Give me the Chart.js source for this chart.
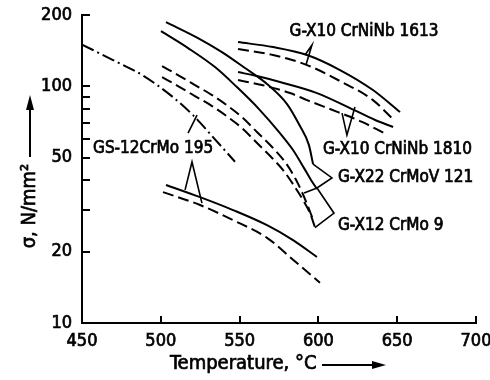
<!DOCTYPE html>
<html><head><meta charset="utf-8">
<script src="https://cdn.jsdelivr.net/npm/chart.js@4.4.1/dist/chart.umd.min.js"></script>
<style>html,body{margin:0;padding:0;background:#fff;}</style>
</head><body>
<canvas id="c" width="490" height="380"></canvas>
<script>
// ---- axis ticks ----
const xTickValues = [450, 500, 550, 600, 650, 700];
const yTickValues = [10, 20, 30, 40, 50, 60, 70, 80, 90, 100, 200];
const yLabelValues = [10, 20, 50, 100, 200];

// ---- series (temperature °C, stress N/mm²) ----
const gsTemp   = [450, 469.7, 488.7, 507.7, 520.4, 533.1, 547.1];
const gsStress = [150, 129, 111, 90, 75.5, 61, 48];

const x22SolidTemp   = [503.3, 523.6, 538.8, 553.4, 567.4, 580.1, 588.3, 594.0, 596.6];
const x22SolidStress = [186.7, 159.8, 139.4, 119.4, 102.2, 84.1, 67.9, 56.4, 46.9];
const x22DashTemp    = [500.8, 510.9, 521.7, 532.5, 542.6, 551.5, 561.0, 570.6, 578.8, 585.2, 589.6, 592.8, 596.0];
const x22DashStress  = [121.7, 111.5, 101.2, 91.8, 82.5, 74.1, 64.1, 55.4, 47.9, 41.0, 35.7, 31.8, 28.0];

const x12SolidTemp   = [500.1, 517.3, 534.4, 548.3, 562.3, 575.6, 583.9, 590.9, 595.3, 599.1];
const x12SolidStress = [171.0, 145.0, 120.5, 99.2, 80.1, 63.4, 53.8, 45.1, 40.2, 36.8];
const x12DashTemp    = [500.8, 510.9, 521.7, 532.5, 542.6, 551.5, 561.7, 570.6, 577.5, 583.9, 590.2, 594.7, 597.8];
const x12DashStress  = [109.4, 100.2, 90.9, 82.5, 74.1, 66.6, 57.0, 49.8, 44.3, 38.6, 33.1, 29.1, 25.4];

const lowSolidTemp   = [503.3, 524.9, 545.8, 567.4, 583.9, 599.1];
const lowSolidStress = [38.3, 34.0, 30.0, 25.9, 22.4, 19.0];
const lowDashTemp    = [501.4, 524.9, 545.8, 567.4, 583.9, 601.0];
const lowDashStress  = [35.7, 31.5, 27.2, 22.9, 18.5, 14.8];

const n1613SolidTemp   = [549, 571.2, 592.8, 613.7, 634.6, 651.8];
const n1613SolidStress = [153.7, 146.4, 135.5, 117.1, 96.4, 77.8];
const n1613DashTemp    = [549, 571.2, 592.8, 613.7, 634.6, 647.3];
const n1613DashStress  = [143.6, 135.5, 122.9, 105.2, 87.4, 72.7];

const n1810SolidTemp   = [549, 561.0, 575.6, 599.1, 620.1, 636.0, 647.4];
const n1810SolidStress = [114.8, 110.4, 104.2, 93.6, 80.9, 72.0, 67.3];
const n1810DashTemp    = [549, 564.2, 582, 592.8, 612.4, 627.7, 642.9];
const n1810DashStress  = [106.2, 101.2, 93.6, 87.4, 77.8, 70.7, 62.8];

// ---- leader lines (data coordinates) ----
const ptr1613Temp = [591.5, 595.9, 592.1], ptr1613Stress = [135.5, 149.3, 122.9];
const ptr1810Temp = [615.0, 618.1, 623.2], ptr1810Stress = [77.0, 62.2, 81.7];
const ptrGsUpTemp = [517.3, 523.0], ptrGsUpStress = [63.4, 75.6];
const ptrGsLowTemp = [515.4, 519.8, 526.1], ptrGsLowStress = [36.5, 47.9, 32.1];
const brX22Temp = [596.6, 608.6, 599.1, 590.9], brX22Stress = [46.9, 41.0, 37.2, 35.4];
const brX12Temp = [599.1, 609.9, 597.8], brX12Stress = [37.2, 29.1, 25.3];

// ---- labels ----
const labelTexts  = ['G-X10 CrNiNb 1613', 'G-X10 CrNiNb 1810', 'G-X22 CrMoV 121', 'G-X12 CrMo 9', 'GS-12CrMo 195'];
const labelTemp   = [581.7, 602.9, 612.4, 612.4, 457.0];
const labelStress = [171, 53.8, 41.0, 25.9, 54.8];

const FONT = "'DejaVu Sans Condensed', 'DejaVu Sans', sans-serif";
Chart.defaults.font.family = FONT;
Chart.defaults.color = '#000';

const pts = (xs, ys) => xs.map((v, i) => ({x: v, y: ys[i]}));
const SOLID = [], DASH = [11, 5], DASHDOT = [13, 4, 2, 4];
const ds = (xs, ys, dash) => ({
  data: pts(xs, ys), borderColor: '#000', borderWidth: 2, borderDash: dash,
  pointRadius: 0, fill: false, cubicInterpolationMode: 'monotone', showLine: true
});

const leaders = [
  [ptr1613Temp, ptr1613Stress], [ptr1810Temp, ptr1810Stress],
  [ptrGsUpTemp, ptrGsUpStress], [ptrGsLowTemp, ptrGsLowStress],
  [brX22Temp, brX22Stress], [brX12Temp, brX12Stress]
];

function boldText(ctx, t, X, Y) {
  ctx.fillText(t, X, Y);
  ctx.lineWidth = 0.7;
  ctx.strokeText(t, X, Y);
}

const deco = {
  id: 'deco',
  afterDraw(chart) {
    const {ctx, chartArea: a, scales: {x, y}} = chart;
    const px = v => x.getPixelForValue(v), py = v => y.getPixelForValue(v);
    ctx.save();
    ctx.strokeStyle = '#000'; ctx.fillStyle = '#000';
    ctx.lineWidth = 2;
    yTickValues.forEach(v => {
      const yy = Math.round(py(v));
      ctx.beginPath(); ctx.moveTo(a.left, yy); ctx.lineTo(a.left + 8, yy); ctx.stroke();
    });
    xTickValues.filter(v => v > 450).forEach(v => {
      const xx = Math.round(px(v));
      ctx.beginPath(); ctx.moveTo(xx, a.bottom); ctx.lineTo(xx, a.bottom - 7); ctx.stroke();
    });
    ctx.lineWidth = 1.6;
    leaders.forEach(([xs, ys]) => {
      ctx.beginPath();
      xs.forEach((v, i) => { const X = px(v), Y = py(ys[i]); i ? ctx.lineTo(X, Y) : ctx.moveTo(X, Y); });
      ctx.stroke();
    });
    ctx.font = '17px ' + FONT;
    ctx.textAlign = 'left'; ctx.textBaseline = 'middle';
    labelTexts.forEach((t, i) => boldText(ctx, t, px(labelTemp[i]), py(labelStress[i])));
    // axis titles
    ctx.font = '20px ' + FONT;
    ctx.textAlign = 'left';
    boldText(ctx, 'Temperature, °C', 170, 364);
    ctx.lineWidth = 2;
    ctx.beginPath(); ctx.moveTo(322, 365); ctx.lineTo(374, 365); ctx.stroke();
    ctx.beginPath(); ctx.moveTo(386, 365); ctx.lineTo(372, 361); ctx.lineTo(372, 369); ctx.closePath(); ctx.fill();
    ctx.save();
    ctx.translate(30, 206); ctx.rotate(-Math.PI / 2);
    ctx.textAlign = 'center';
    boldText(ctx, 'σ, N/mm²', 0, 0);
    ctx.restore();
    ctx.lineWidth = 2;
    ctx.beginPath(); ctx.moveTo(30, 157); ctx.lineTo(30, 108); ctx.stroke();
    ctx.beginPath(); ctx.moveTo(30, 95); ctx.lineTo(26, 110); ctx.lineTo(34, 110); ctx.closePath(); ctx.fill();
    ctx.restore();
  }
};

new Chart(document.getElementById('c'), {
  type: 'line',
  data: {
    datasets: [
      ds(gsTemp, gsStress, DASHDOT),
      ds(x22SolidTemp, x22SolidStress, SOLID),
      ds(x22DashTemp, x22DashStress, DASH),
      ds(x12SolidTemp, x12SolidStress, SOLID),
      ds(x12DashTemp, x12DashStress, DASH),
      ds(lowSolidTemp, lowSolidStress, SOLID),
      ds(lowDashTemp, lowDashStress, DASH),
      ds(n1613SolidTemp, n1613SolidStress, SOLID),
      ds(n1613DashTemp, n1613DashStress, DASH),
      ds(n1810SolidTemp, n1810SolidStress, SOLID),
      ds(n1810DashTemp, n1810DashStress, DASH)
    ]
  },
  options: {
    responsive: false, animation: false, devicePixelRatio: 1,
    layout: {padding: {top: 15, right: 14, left: 0, bottom: 0}},
    plugins: {legend: {display: false}, tooltip: {enabled: false}},
    scales: {
      x: {
        type: 'linear', min: 450, max: 700,
        afterBuildTicks: s => { s.ticks = xTickValues.map(v => ({value: v})); },
        afterFit: s => { s.height = 57; s.paddingLeft = 0; s.paddingRight = 0; },
        ticks: {autoSkip: false, maxRotation: 0, padding: 8, font: {size: 18}, color: '#000',
          textStrokeColor: '#000', textStrokeWidth: 0.7},
        grid: {display: false, drawTicks: false},
        border: {display: true, color: '#000', width: 2}
      },
      y: {
        type: 'logarithmic', min: 10, max: 200,
        afterBuildTicks: s => { s.ticks = yTickValues.map(v => ({value: v})); },
        afterFit: s => { s.width = 82; s.paddingTop = 0; s.paddingBottom = 0; },
        ticks: {autoSkip: false, padding: 10, font: {size: 18}, color: '#000',
          textStrokeColor: '#000', textStrokeWidth: 0.7,
          callback: v => yLabelValues.includes(v) ? String(v) : ''},
        grid: {display: false, drawTicks: false},
        border: {display: true, color: '#000', width: 2}
      }
    }
  },
  plugins: [deco]
});
</script>
</body></html>
